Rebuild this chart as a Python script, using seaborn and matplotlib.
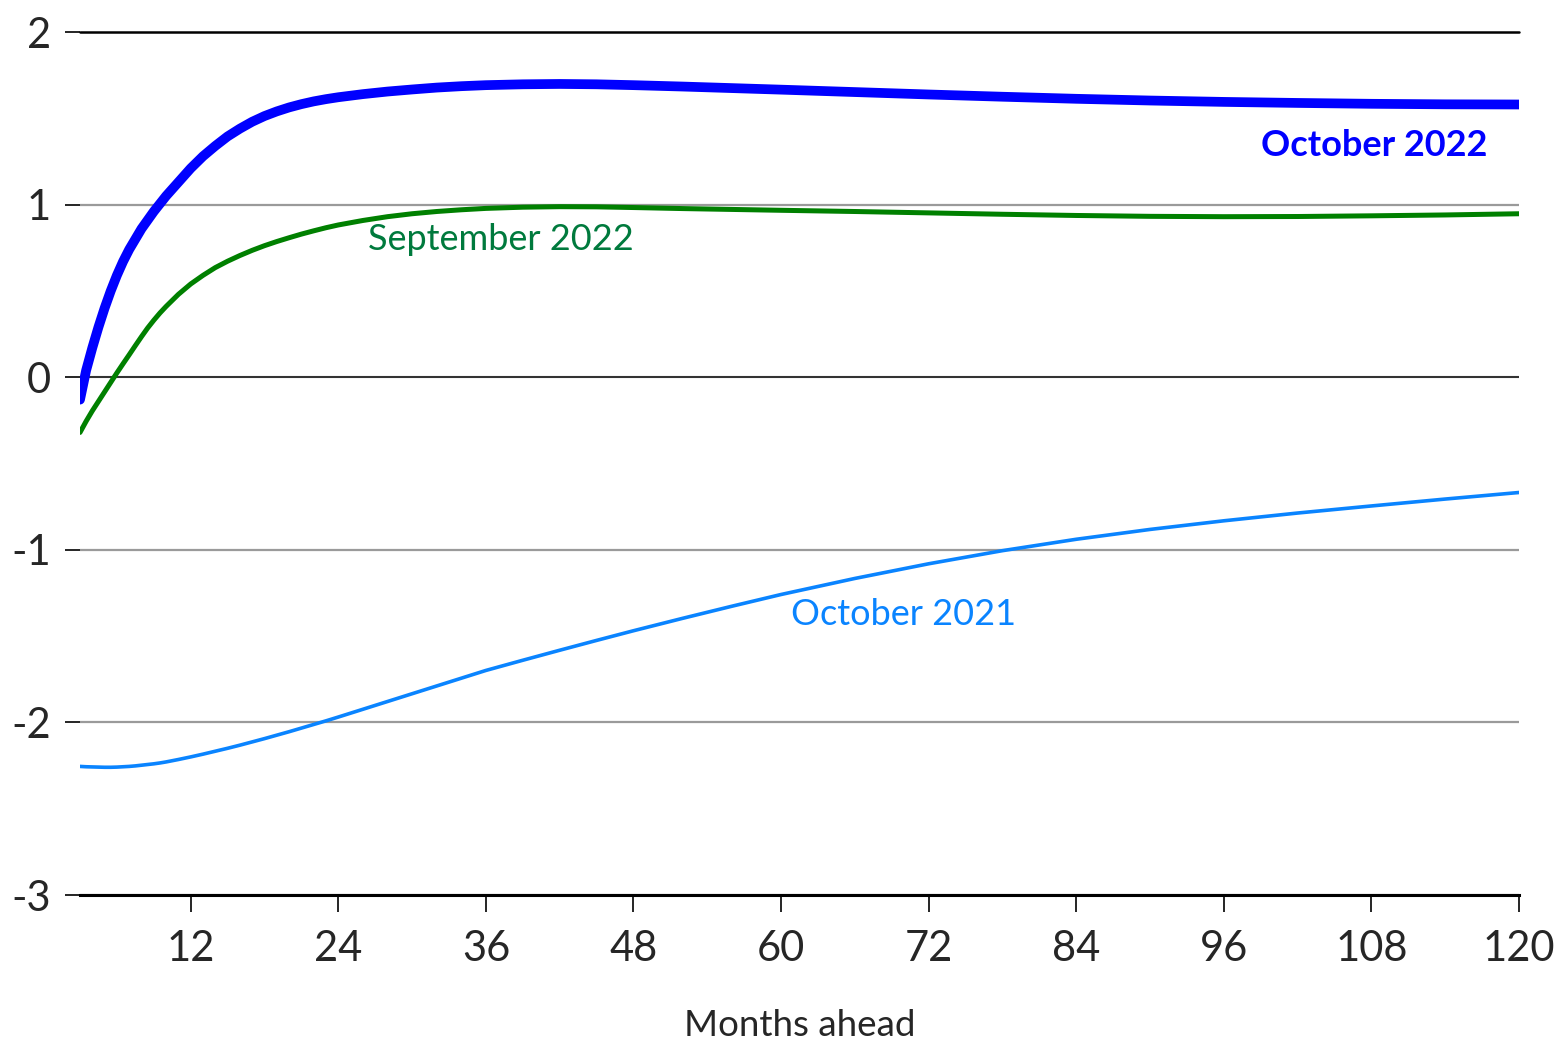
import pandas as pd
import numpy as np
import seaborn as sns
import matplotlib.pyplot as plt

# months ahead and the three forecast paths
months = [3, 3.5, 4, 4.5, 5, 5.5, 6, 6.5, 7, 7.5, 8, 8.5, 9, 9.5, 10, 11, 12, 13, 14,
          15, 16, 17, 18, 19, 20, 21, 22, 23, 24, 26, 28, 30, 32, 34, 36, 39, 42, 45,
          48, 52, 56, 60, 66, 72, 78, 84, 90, 96, 102, 108, 114, 120]

oct_2022 = [-0.13, 0.04, 0.17, 0.29, 0.40, 0.50, 0.59, 0.67, 0.74, 0.80, 0.86, 0.91,
            0.96, 1.005, 1.05, 1.13, 1.21, 1.28, 1.34, 1.395, 1.44, 1.48, 1.513, 1.54,
            1.563, 1.582, 1.598, 1.611, 1.622, 1.64, 1.655, 1.667, 1.678, 1.686, 1.692,
            1.697, 1.699, 1.697, 1.692, 1.684, 1.675, 1.666, 1.652, 1.638, 1.625,
            1.613, 1.603, 1.595, 1.589, 1.584, 1.581, 1.58]

sep_2022 = [-0.32, -0.255, -0.195, -0.14, -0.085, -0.03, 0.025, 0.078, 0.13, 0.183,
            0.235, 0.285, 0.33, 0.372, 0.41, 0.48, 0.54, 0.59, 0.635, 0.672, 0.705,
            0.735, 0.762, 0.786, 0.808, 0.829, 0.848, 0.866, 0.882, 0.908, 0.93,
            0.947, 0.96, 0.97, 0.978, 0.985, 0.988, 0.987, 0.983, 0.977, 0.972,
            0.967, 0.96, 0.952, 0.944, 0.937, 0.932, 0.93, 0.931, 0.935, 0.94, 0.947]

oct_2021 = [-2.255, -2.257, -2.258, -2.259, -2.26, -2.26, -2.259, -2.257, -2.255,
            -2.252, -2.248, -2.244, -2.24, -2.235, -2.229, -2.215, -2.20, -2.184,
            -2.167, -2.15, -2.132, -2.113, -2.094, -2.074, -2.054, -2.033, -2.012,
            -1.991, -1.969, -1.924, -1.879, -1.834, -1.789, -1.744, -1.699, -1.640,
            -1.582, -1.525, -1.469, -1.397, -1.327, -1.259, -1.166, -1.081, -1.005,
            -0.939, -0.882, -0.832, -0.787, -0.746, -0.706, -0.668]

x_ticks = [12, 24, 36, 48, 60, 72, 84, 96, 108, 120]
y_ticks = [-3, -2, -1, 0, 1, 2]

sns.set_style('white')
plt.rcParams['font.family'] = ['Lato', 'DejaVu Sans']
plt.rcParams['axes.unicode_minus'] = False

df = pd.DataFrame({'month': months, 'oct_2022': oct_2022,
                   'sep_2022': sep_2022, 'oct_2021': oct_2021})

fig = plt.figure(figsize=(15.68, 10.4), dpi=100)
ax = fig.add_axes([80 / 1568, 1 - 895 / 1040, (1519 - 80) / 1568, (895 - 32) / 1040])

# horizontal reference lines
for yv in [-3, -2, -1, 1]:
    ax.axhline(yv, color='#9a9a9a', lw=1.6, zorder=1)
ax.axhline(0, color='#333333', lw=1.5, zorder=1)
ax.axhline(2, color='black', lw=1.8, zorder=1, clip_on=False)

sns.lineplot(data=df, x='month', y='oct_2021', ax=ax, color='#0A84FF', lw=2.6, zorder=3)
sns.lineplot(data=df, x='month', y='sep_2022', ax=ax, color='#008000', lw=3.6, zorder=4)
sns.lineplot(data=df, x='month', y='oct_2022', ax=ax, color='#0000FF', lw=7, zorder=5)

ax.set_xlim(3, 120)
ax.set_ylim(-3, 2)
ax.set_xticks(x_ticks)
ax.set_yticks(y_ticks)

for s in ['left', 'right', 'top']:
    ax.spines[s].set_visible(False)
ax.spines['bottom'].set_color('black')
ax.spines['bottom'].set_linewidth(2.2)
ax.spines['bottom'].set_zorder(2)

ax.tick_params(axis='y', direction='out', length=11, width=1.2, color='black',
               pad=10, labelsize=30, left=True)
ax.tick_params(axis='x', direction='out', length=12, width=1.2, color='black',
               pad=13, labelsize=30, bottom=True)

ax.set_xlabel('Months ahead', fontsize=26.5, labelpad=30)
ax.set_ylabel('')

ax.text(108.2, 1.344, 'October 2022', color='#0000FF', fontsize=26,
        fontweight='bold', ha='center', va='center')
ax.text(37.2, 0.80, 'September 2022', color='#007A3D', fontsize=26,
        ha='center', va='center')
ax.text(70.0, -1.375, 'October 2021', color='#0A84FF', fontsize=26,
        ha='center', va='center')

fig.savefig('out.png', dpi=100)
